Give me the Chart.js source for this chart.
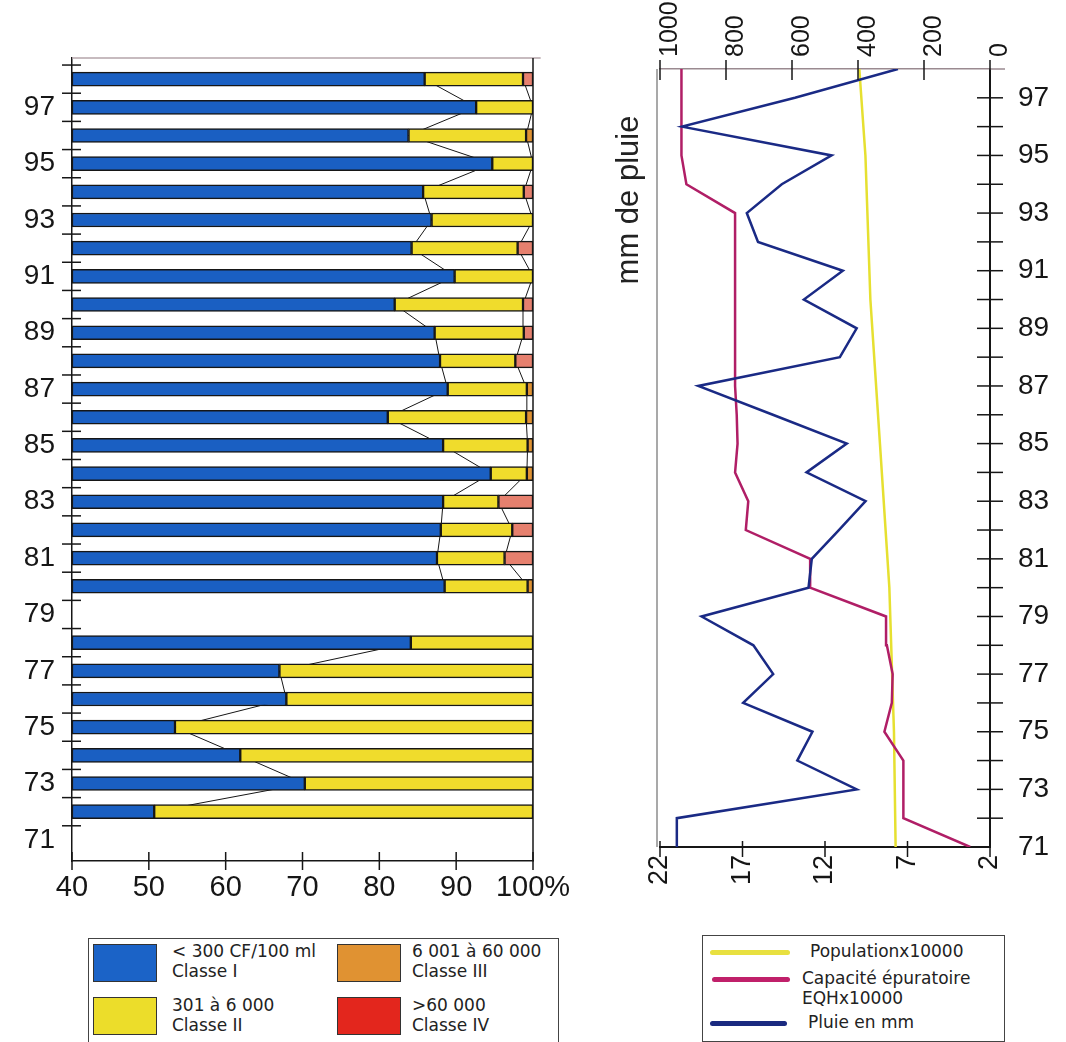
<!DOCTYPE html>
<html>
<head>
<meta charset="utf-8">
<script src="https://cdn.jsdelivr.net/npm/chart.js@4.4.1/dist/chart.umd.min.js"></script>
<style>
body { margin: 0; background: #fff; width: 1066px; height: 1042px; position: relative; overflow: hidden; }
#left { position: absolute; left: 0; top: 0; }
#right { position: absolute; left: 600px; top: 0; }
.box { position: absolute; border: 1px solid #444; background: #fff; }
.sw { position: absolute; width: 64px; height: 38px; border: 1px solid #333; box-sizing: border-box; }
.txt { position: absolute; font-family: "DejaVu Sans", sans-serif; font-size: 17px; line-height: 20px; color: #222; white-space: nowrap; }
.ln { position: absolute; height: 5px; border-radius: 3px; }
</style>
</head>
<body>
<canvas id="left" width="600" height="920"></canvas>
<canvas id="right" width="466" height="920"></canvas>

<div class="box" style="left:88px;top:938px;width:469px;height:110px"></div>
<div class="sw" style="left:93px;top:944px;background:#1b63c7"></div>
<div class="txt" style="left:172px;top:941px">&lt; 300 CF/100 ml<br>Classe I</div>
<div class="sw" style="left:337px;top:944px;background:#e09232"></div>
<div class="txt" style="left:412px;top:941px">6 001 à 60 000<br>Classe III</div>
<div class="sw" style="left:93px;top:997px;background:#ecdd2a"></div>
<div class="txt" style="left:172px;top:995px">301 à 6 000<br>Classe II</div>
<div class="sw" style="left:337px;top:997px;background:#e3261d"></div>
<div class="txt" style="left:412px;top:995px">&gt;60 000<br>Classe IV</div>

<div class="box" style="left:702px;top:935px;width:301px;height:105px"></div>
<div class="ln" style="left:710px;top:950px;width:80px;background:#e8e040"></div>
<div class="txt" style="left:810px;top:941px">Populationx10000</div>
<div class="ln" style="left:712px;top:977px;width:78px;background:#c0206a"></div>
<div class="txt" style="left:802px;top:968px">Capacité épuratoire<br>EQHx10000</div>
<div class="ln" style="left:710px;top:1021px;width:77px;background:#1a2a80"></div>
<div class="txt" style="left:808px;top:1012px">Pluie en mm</div>

<script>
// ---- left chart: faecal coliform classes, % of samples
var years = [1972, 1973, 1974, 1975, 1976, 1977, 1978, 1979, 1980, 1981, 1982, 1983, 1984, 1985,
             1986, 1987, 1988, 1989, 1990, 1991, 1992, 1993, 1994, 1995, 1996, 1997, 1998];
var classeI   = [50.7, 70.3, 61.9, 53.4, 67.9, 67.0, 84.1, null, 88.5, 87.5, 88.0, 88.3, 94.5, 88.3,
                 81.1, 88.9, 87.9, 87.2, 82.0, 89.8, 84.2, 86.8, 85.7, 94.7, 83.8, 92.6, 85.9];
var classeII  = [49.3, 29.7, 38.1, 46.6, 32.1, 33.0, 15.9, null, 10.8, 8.8, 9.3, 7.2, 4.7, 11.0,
                 18.0, 10.3, 9.8, 11.6, 16.7, 10.2, 13.8, 13.2, 13.1, 5.3, 15.3, 7.4, 12.8];
var classeIII = [0, 0, 0, 0, 0, 0, 0, null, 0.7, 0, 0, 0, 0.8, 0.7,
                 0.9, 0.8, 0, 0, 0, 0, 0, 0, 0, 0, 0.9, 0, 0];
var classeIV  = [0, 0, 0, 0, 0, 0, 0, null, 0, 3.7, 2.7, 4.5, 0, 0,
                 0, 0, 2.3, 1.2, 1.3, 0, 2.0, 0, 1.2, 0, 0, 0, 1.3];
var pctTicks = [40, 50, 60, 70, 80, 90, 100];

// ---- right chart
var rainYears = [1971, 1972, 1973, 1974, 1975, 1976, 1977, 1978, 1979, 1980, 1981, 1982, 1983, 1984,
                 1985, 1986, 1987, 1988, 1989, 1990, 1991, 1992, 1993, 1994, 1995, 1996, 1997, 1998];
var pluie = [949, 949, 404, 584, 538, 748, 657, 717, 874, 550, 540, 458, 377, 556,
             434, 658, 884, 455, 404, 564, 446, 703, 737, 631, 480, 933, 591, 279];
var capacite = [3.2, 7.25, 7.25, 7.25, 8.4, 7.95, 7.9, 8.25, 8.3, 12.9, 12.9, 16.8, 16.65, 17.45,
                17.3, 17.35, 17.45, 17.45, 17.45, 17.45, 17.45, 17.45, 17.45, 20.4, 20.7, 20.7, 20.7, 20.7];
var popYears = [1971, 1975, 1980, 1985, 1990, 1995, 1998];
var population = [7.72, 7.82, 8.1, 8.67, 9.25, 9.55, 9.92];

var ink = '#161616';

function segment(lo, hi, i) {
    // floating bar [start, end] for one class of one year
    var out = [];
    years.forEach(function(y, k) {
        if (classeI[k] == null) return;
        var a = 40, b = 0;
        for (var c = 0; c <= hi; c++) {
            var v = [classeI, classeII, classeIII, classeIV][c][k];
            if (c < lo) a = (c == 0 ? v : a + v);
            b = (c == 0 ? v : b + v);
        }
        if (lo > 0 && b - a <= 0) return;
        out.push({ y: y, x: [a, b] });
    });
    return out;
}

function edge(n) {
    return years.map(function(y, k) {
        if (classeI[k] == null) return { y: y, x: null };
        var s = classeI[k];
        if (n > 0) s += classeII[k];
        return { y: y, x: s };
    });
}

function barSet(label, lo, color) {
    return {
        type: 'bar', label: label, data: segment(lo, lo), backgroundColor: color,
        borderColor: ink, borderWidth: 1.5, borderSkipped: false,
        barThickness: 14, grouped: false, order: 0
    };
}

var leftFrame = {
    id: 'leftFrame',
    afterDraw: function(chart) {
        var ctx = chart.ctx, a = chart.chartArea, xs = chart.scales.x, ys = chart.scales.y;
        ctx.save();
        ctx.lineWidth = 1.5;
        ctx.strokeStyle = '#b4a4aa';
        ctx.beginPath(); ctx.moveTo(a.left, a.top); ctx.lineTo(xs.getPixelForValue(101), a.top); ctx.stroke();
        ctx.strokeStyle = ink;
        var xr = xs.getPixelForValue(100);
        ctx.beginPath(); ctx.moveTo(xr, a.top); ctx.lineTo(xr, a.bottom); ctx.stroke();
        ys.ticks.forEach(function(t) {
            if (Number.isInteger(t.value) || t.value <= ys.min) return;
            var p = ys.getPixelForValue(t.value);
            ctx.beginPath(); ctx.moveTo(a.left - 10, p); ctx.lineTo(a.left + 9, p); ctx.stroke();
        });
        xs.ticks.forEach(function(t) {
            var p = xs.getPixelForValue(t.value);
            ctx.beginPath(); ctx.moveTo(p, a.bottom - 9); ctx.lineTo(p, a.bottom + 9); ctx.stroke();
        });
        ctx.restore();
    }
};

new Chart(document.getElementById('left'), {
    type: 'bar',
    data: {
        datasets: [
            barSet('Classe I', 0, '#1a5fc2'),
            barSet('Classe II', 1, '#f0dc2c'),
            barSet('Classe III', 2, '#e09232'),
            barSet('Classe IV', 3, '#e6806e'),
            { type: 'line', data: edge(0), borderColor: ink, borderWidth: 1, pointRadius: 0, order: 5, spanGaps: false },
            { type: 'line', data: edge(1), borderColor: ink, borderWidth: 1, pointRadius: 0, order: 5, spanGaps: false }
        ]
    },
    options: {
        indexAxis: 'y',
        responsive: false,
        animation: false,
        layout: { padding: { left: 0, right: 67, top: 58, bottom: 0 } },
        plugins: { legend: { display: false }, tooltip: { enabled: false } },
        scales: {
            x: {
                type: 'linear', min: 40, max: 100,
                ticks: {
                    stepSize: 10, padding: 10, color: ink, minRotation: 0, maxRotation: 0, autoSkip: false,
                    font: { family: 'Liberation Sans', size: 29 },
                    callback: function(v) { return pctTicks.indexOf(v) < 0 ? '' : (v == 100 ? '100%' : String(v)); }
                },
                grid: { display: false, drawTicks: false },
                border: { color: ink, width: 1.5 },
                afterFit: function(s) { s.height = 59; }
            },
            y: {
                type: 'linear', min: 1970.5, max: 1998.5,
                ticks: {
                    stepSize: 0.5, autoSkip: false, padding: 17, color: ink,
                    font: { family: 'Liberation Sans', size: 28 },
                    callback: function(v) { return (Number.isInteger(v) && v % 2 == 1) ? String(v).slice(2) : ''; }
                },
                grid: { display: false, drawTicks: false },
                border: { color: ink, width: 1.5 },
                afterFit: function(s) { s.width = 72; }
            }
        }
    },
    plugins: [leftFrame]
});

var rightFrame = {
    id: 'rightFrame',
    afterDraw: function(chart) {
        var ctx = chart.ctx, a = chart.chartArea, ys = chart.scales.y;
        var xt = chart.scales.xTop, xb = chart.scales.xBot;
        ctx.save();
        ctx.lineWidth = 1.5;
        ctx.strokeStyle = '#8c8c8c';
        ctx.beginPath(); ctx.moveTo(a.left - 3, a.top); ctx.lineTo(a.left - 3, a.bottom); ctx.stroke();
        ctx.strokeStyle = '#9a8a90';
        ctx.beginPath(); ctx.moveTo(a.right, a.top); ctx.lineTo(a.right + 15, a.top); ctx.stroke();
        ctx.strokeStyle = ink;
        xt.ticks.forEach(function(t) {
            var p = xt.getPixelForValue(t.value);
            ctx.beginPath(); ctx.moveTo(p, a.top - 9); ctx.lineTo(p, a.top + 11); ctx.stroke();
        });
        xb.ticks.forEach(function(t) {
            var p = xb.getPixelForValue(t.value);
            ctx.beginPath(); ctx.moveTo(p, a.bottom - 6); ctx.lineTo(p, a.bottom + 10); ctx.stroke();
        });
        ys.ticks.forEach(function(t) {
            if (t.value <= ys.min || t.value >= ys.max) return;
            var p = ys.getPixelForValue(t.value);
            ctx.beginPath(); ctx.moveTo(a.right - 13, p); ctx.lineTo(a.right + 13, p); ctx.stroke();
        });
        ctx.translate(a.left - 31, a.top + 131);
        ctx.rotate(-Math.PI / 2);
        ctx.fillStyle = '#222';
        ctx.font = '31px "Liberation Sans"';
        ctx.textAlign = 'center';
        ctx.textBaseline = 'middle';
        ctx.fillText('mm de pluie', 0, 0);
        ctx.restore();
    }
};

function pts(ys, vs) {
    return ys.map(function(y, k) { return { y: y, x: vs[k] }; });
}

new Chart(document.getElementById('right'), {
    type: 'line',
    data: {
        datasets: [
            { label: 'Pluie en mm', data: pts(rainYears, pluie), xAxisID: 'xTop', yAxisID: 'y',
              borderColor: '#1a2a85', borderWidth: 2.5, pointRadius: 0, order: 0 },
            { label: 'Capacité épuratoire EQHx10000', data: pts(rainYears, capacite), xAxisID: 'xBot', yAxisID: 'y',
              borderColor: '#b01e66', borderWidth: 2.5, pointRadius: 0, order: 1 },
            { label: 'Populationx10000', data: pts(popYears, population), xAxisID: 'xBot', yAxisID: 'y',
              borderColor: '#e6e030', borderWidth: 2.5, pointRadius: 0, order: 2 }
        ]
    },
    options: {
        indexAxis: 'y',
        responsive: false,
        animation: false,
        layout: { padding: { left: 60, right: 0, top: 0, bottom: 0 } },
        plugins: { legend: { display: false }, tooltip: { enabled: false } },
        scales: {
            y: {
                type: 'linear', position: 'right', min: 1971, max: 1998,
                ticks: {
                    stepSize: 1, autoSkip: false, padding: 28, color: ink,
                    font: { family: 'Liberation Sans', size: 28 },
                    callback: function(v) { return (v % 2 == 1) ? String(v).slice(2) : ''; }
                },
                grid: { display: false, drawTicks: false },
                border: { color: ink, width: 2 },
                afterFit: function(s) { s.width = 76; }
            },
            xTop: {
                type: 'linear', axis: 'x', position: 'top', min: 0, max: 1000, reverse: true,
                ticks: { stepSize: 200, minRotation: 90, maxRotation: 90, padding: 12, color: ink,
                         labelOffset: 40,
                         font: { family: 'Liberation Sans', size: 25 },
                         callback: function(v) { return String(v); } },
                grid: { display: false, drawTicks: false },
                border: { color: '#9a8a90', width: 1.5 },
                afterFit: function(s) { s.height = 69; }
            },
            xBot: {
                type: 'linear', axis: 'x', position: 'bottom', min: 2, max: 22, reverse: true,
                ticks: { stepSize: 5, minRotation: 90, maxRotation: 90, padding: 8, color: ink,
                         font: { family: 'Liberation Sans', size: 27 },
                         callback: function(v) { return String(v); } },
                grid: { display: false, drawTicks: false },
                border: { color: ink, width: 2 },
                afterFit: function(s) { s.height = 73; }
            }
        }
    },
    plugins: [rightFrame]
});
</script>
</body>
</html>
